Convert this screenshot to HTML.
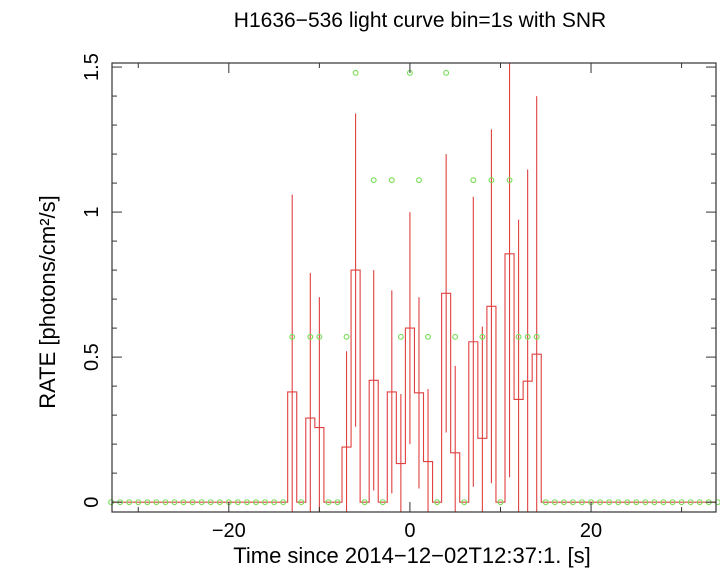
<!DOCTYPE html>
<html><head><meta charset="utf-8"><style>
html,body{margin:0;padding:0;width:720px;height:570px;overflow:hidden;background:#fff}
svg{display:block;font-family:"Liberation Sans",sans-serif}
</style></head><body>
<svg id="chart" width="720" height="570" viewBox="0 0 720 570">
<defs><clipPath id="pc"><rect x="112" y="63" width="604" height="449"/></clipPath></defs>
<text x="420" y="27" text-anchor="middle" font-size="21">H1636−536 light curve bin=1s with SNR</text>
<g id="marks" clip-path="url(#pc)"></g>
<g id="axes"></g>
<text x="412" y="563" text-anchor="middle" font-size="22">Time since 2014−12−02T12:37:1. [s]</text>
<text transform="translate(55,302) rotate(-90)" text-anchor="middle" font-size="22">RATE [photons/cm²/s]</text>
</svg>
<script>
const binTimes = [-13,-12,-11,-10,-9,-8,-7,-6,-5,-4,-3,-2,-1,0,1,2,3,4,5,6,7,8,9,10,11,12,13,14];
const rates    = [0.38,0,0.29,0.257,0,0,0.19,0.80,0,0.42,0,0.38,0.133,0.60,0.377,0.14,0,0.72,0.17,0,0.553,0.22,0.675,0,0.856,0.354,0.417,0.51];
const rateErrs = [0.68,0,0.50,0.45,0,0,0.33,0.54,0,0.38,0,0.35,0.24,0.40,0.33,0.25,0,0.48,0.30,0,0.50,0.385,0.61,0,0.77,0.62,0.73,0.89];
const snrTimes = [-13,-11,-10,-7,-6,-4,-2,-1,0,1,2,4,5,7,8,9,11,12,13,14];
const snrVals  = [0.57,0.57,0.57,0.57,1.48,1.11,1.11,0.57,1.48,1.11,0.57,1.48,0.57,1.11,0.57,1.11,1.11,0.57,0.57,0.57];
const xTicks = [-20,0,20];
const xTickLabels = ["−20","0","20"];
const yTicks = [0,0.5,1,1.5];
const yTickLabels = ["0","0.5","1","1.5"];
const X0=-32.9, X1=33.8, Y0=-0.034, Y1=1.514;
const L=112,R=716,T=63,B=512;
const sx=v=>L+(v-X0)/(X1-X0)*(R-L);
const sy=v=>B-(v-Y0)/(Y1-Y0)*(B-T);
const NS='http://www.w3.org/2000/svg';
const marks=document.getElementById('marks'), axes=document.getElementById('axes');
function mk(tag,attrs,parent){const e=document.createElementNS(NS,tag);for(const k in attrs)e.setAttribute(k,attrs[k]);parent.appendChild(e);return e;}
let d='M'+sx(-40)+','+sy(0);
binTimes.forEach((t,i)=>{d+=' L'+sx(t-0.5)+','+sy(i===0?0:rates[i-1])+' L'+sx(t-0.5)+','+sy(rates[i])+' L'+sx(t+0.5)+','+sy(rates[i]);});
d+=' L'+sx(binTimes[binTimes.length-1]+0.5)+','+sy(0)+' L'+sx(40)+','+sy(0);
const step=mk('path',{d:d,fill:'none',stroke:'#e04040','stroke-width':1.1},marks);


binTimes.forEach((t,i)=>{
  if(rateErrs[i]<=0)return;
  const l=mk('line',{x1:sx(t),x2:sx(t),y1:sy(rates[i]-rateErrs[i]),y2:sy(rates[i]+rateErrs[i]),stroke:'#e04040','stroke-width':1.1},marks);
  
  
});
for(let t=-33;t<=34;t++){
  const k=snrTimes.indexOf(t);
  const v=k>=0?snrVals[k]:0;
  const c=mk('circle',{cx:sx(t),cy:sy(v),r:2.4,fill:'none',stroke:'#77dd55','stroke-width':1.1},axes);
  
  
}
const fr=mk('rect',{x:L,y:T,width:R-L,height:B-T,fill:'none',stroke:'#333','stroke-width':1.2},axes);


for(let v=-30;v<=30;v+=10){
  const major=v%20===0, len=major?10:5;
  mk('line',{x1:sx(v),x2:sx(v),y1:B,y2:B-len,stroke:'#333'},axes);
  mk('line',{x1:sx(v),x2:sx(v),y1:T,y2:T+len,stroke:'#333'},axes);
}
xTicks.forEach((v,i)=>{
  const t=mk('text',{x:sx(v),y:537,'text-anchor':'middle','font-size':20},axes);
  t.textContent=xTickLabels[i];
  
  
});
for(let k=0;k<=15;k++){
  const v=k/10, major=k%5===0, len=major?10:5;
  mk('line',{x1:L,x2:L+len,y1:sy(v),y2:sy(v),stroke:'#333'},axes);
  mk('line',{x1:R,x2:R-len,y1:sy(v),y2:sy(v),stroke:'#333'},axes);
}
yTicks.forEach((v,i)=>{
  const t=mk('text',{transform:'translate(98,'+sy(v)+') rotate(-90)','text-anchor':'middle','font-size':20},axes);
  t.textContent=yTickLabels[i];
  
  
});
</script>
</body></html>
